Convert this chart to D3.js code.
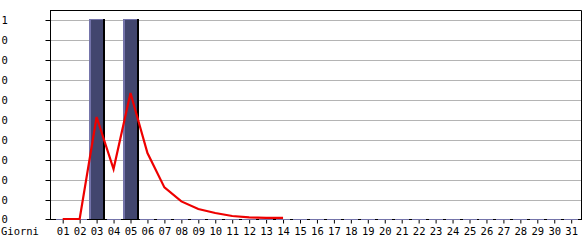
<!DOCTYPE html>
<html>
<head>
<meta charset="utf-8">
<script src="https://cdn.jsdelivr.net/npm/d3@7"></script>
<style>
  html, body { margin: 0; padding: 0; background: #fff; }
  svg { display: block; }
  text { font-family: "DejaVu Sans Mono", monospace; font-size: 10.5px; fill: #000; }
</style>
</head>
<body>
<div id="chart"></div>
<script>
const days = ["01","02","03","04","05","06","07","08","09","10","11","12","13","14","15","16",
  "17","18","19","20","21","22","23","24","25","26","27","28","29","30","31"];
const barValues = [0,0,1,0,1,0,0,0,0,0,0,0,0,0,0,0,0,0,0,0,0,0,0,0,0,0,0,0,0,0,0];
const lineDays = ["01","02","03","04","05","06","07","08","09","10","11","12","13","14"];
const lineValues = [0,0,0.51,0.25,0.63,0.33,0.158,0.088,0.05,0.03,0.015,0.008,0.006,0.006];
const yTickValues = [1,0.9,0.8,0.7,0.6,0.5,0.4,0.3,0.2,0.1,0];
const yTickLabels = ["1","0","0","0","0","0","0","0","0","0","0"];
const xTitle = "Giorni";

const W = 585, H = 240;
const pLeft = 50, pRight = 581, pTop = 10, pBottom = 220;
const FONT = "DejaVu Sans Mono, monospace", FS = "10.5px";

const svg = d3.select("#chart").append("svg").attr("width", W).attr("height", H);

const x = d3.scalePoint().domain(days).range([62.7, 571.2]);
const y = d3.scaleLinear().domain([0, 1]).range([220, 20]);

// gridlines
svg.append("g").selectAll("line").data(yTickValues.filter(v => v > 0)).join("line")
  .attr("x1", pLeft).attr("x2", pRight)
  .attr("y1", d => Math.round(y(d)) + 0.5).attr("y2", d => Math.round(y(d)) + 0.5)
  .attr("stroke", "#b4b4b4").attr("stroke-width", 1);

// frame (top and right)
svg.append("path")
  .attr("d", `M${pLeft + 0.5},${pBottom}V${pTop + 0.5}H${pRight + 0.5}V${pBottom}`)
  .attr("fill", "none").attr("stroke", "#000").attr("stroke-width", 1);

// bars
const barData = days.map((d, i) => ({ day: d, v: barValues[i] }));
const bars = svg.append("g");
barData.forEach(b => {
  const bx = Math.round(x(b.day)) - 8;
  if (b.v > 0) {
    const ty = Math.round(y(b.v)) - 1;
    bars.append("rect").attr("x", bx).attr("y", ty).attr("width", 14).attr("height", 219 - ty)
      .attr("fill", "#42466e");
    bars.append("rect").attr("x", bx).attr("y", ty).attr("width", 2).attr("height", 219 - ty)
      .attr("fill", "#7474aa");
    bars.append("rect").attr("x", bx).attr("y", ty).attr("width", 14).attr("height", 1)
      .attr("fill", "#7474aa");
    bars.append("rect").attr("x", bx + 14).attr("y", ty).attr("width", 2).attr("height", 219 - ty)
      .attr("fill", "#000");
  }
});

// x axis
const xAxis = svg.append("g").attr("transform", `translate(0,219.5)`)
  .call(d3.axisBottom(x).tickSize(4).tickSizeOuter(0));
xAxis.select(".domain").attr("d", `M${pLeft},0H${pRight + 1}`).attr("stroke", "#000");
xAxis.selectAll(".tick line").attr("stroke", "#000");
xAxis.selectAll(".tick text").attr("y", 15.5).attr("dy", null)
  .style("font-family", FONT).style("font-size", FS).attr("fill", "#000");
xAxis.attr("font-family", null).attr("font-size", null);

// zero-height bars as lavender dashes on the axis
barData.forEach(b => {
  if (b.v === 0) {
    const bx = Math.round(x(b.day)) - 8;
    svg.append("rect").attr("x", bx + 1).attr("y", 219).attr("width", 14).attr("height", 1)
      .attr("fill", "#7474aa");
  }
});

// y axis
const yAxis = svg.append("g").attr("transform", `translate(${pLeft + 0.5},0)`)
  .call(d3.axisLeft(y).tickValues(yTickValues).tickSize(5).tickSizeOuter(0)
    .tickFormat((d, i) => yTickLabels[i]));
yAxis.select(".domain").attr("d", `M0,${pTop}V${220}`).attr("stroke", "#000");
yAxis.selectAll(".tick").attr("transform", d => `translate(0,${Math.round(y(d)) + 0.5 - (d === 0 ? 1 : 0)})`);
yAxis.selectAll(".tick line").attr("stroke", "#000");
yAxis.selectAll(".tick text").attr("x", -49).attr("text-anchor", "start").attr("dy", "0.35em")
  .style("font-family", FONT).style("font-size", FS).attr("fill", "#000");
yAxis.attr("font-family", null).attr("font-size", null);

// red line
const lineData = lineDays.map((d, i) => ({ day: d, v: lineValues[i] }));
svg.append("path").datum(lineData)
  .attr("fill", "none").attr("stroke", "#ee0000").attr("stroke-width", 2.2)
  .attr("d", d3.line().x(d => x(d.day)).y(d => y(d.v) - 1));

// x title
svg.append("text").attr("x", 1).attr("y", 235).text(xTitle);
</script>
</body>
</html>
